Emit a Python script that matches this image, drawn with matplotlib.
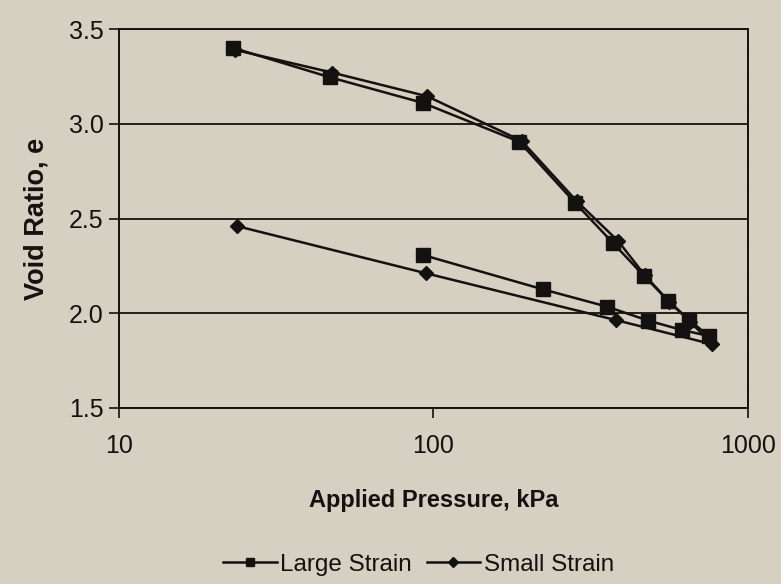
import numpy as np
import matplotlib
matplotlib.use("Agg")
import matplotlib.pyplot as plt

plt.rcParams['font.family'] = ['Liberation Sans', 'DejaVu Sans']

# consolidation test: loading then unloading
large_p = [23.1, 46.9, 92.6, 187.5, 282, 373, 467, 558, 650, 751,
           615, 482, 356, 223, 92.8]
large_e = [3.40, 3.245, 3.11, 2.905, 2.583, 2.369, 2.197, 2.066, 1.964, 1.880,
           1.912, 1.961, 2.035, 2.126, 2.307]

small_p = [23.4, 47.6, 95.5, 190.5, 286, 387, 470, 562, 655, 771,
           380, 94.6, 23.7]
small_e = [3.39, 3.27, 3.145, 2.91, 2.59, 2.38, 2.20, 2.06, 1.955, 1.836,
           1.964, 2.211, 2.460]

x_ticks = [10, 100, 1000]
x_ticklabels = ['10', '100', '1000']
y_ticks = [1.5, 2.0, 2.5, 3.0, 3.5]

bg = '#d6d0c2'
ink = '#141210'

fig = plt.figure(figsize=(7.81, 5.84), dpi=100, facecolor=bg)
ax = fig.add_axes([0.1524, 0.3014, 0.8053, 0.6489], facecolor=bg)

ax.plot(large_p, large_e, color=ink, lw=1.8, marker='s', ms=9.5,
        label='Large Strain', zorder=3)
ax.plot(small_p, small_e, color=ink, lw=1.8, marker='D', ms=7.5,
        label='Small Strain', zorder=3)

ax.set_xscale('log')
ax.set_xlim(10, 1000)
ax.set_ylim(1.5, 3.5)
ax.set_xticks(x_ticks)
ax.set_xticklabels(x_ticklabels)
ax.xaxis.set_minor_locator(matplotlib.ticker.NullLocator())
ax.set_yticks(y_ticks)
ax.set_yticklabels([f'{v:.1f}' for v in y_ticks])

ax.yaxis.grid(True, color=ink, lw=1.3)
ax.set_axisbelow(True)

for side in ['left', 'bottom']:
    ax.spines[side].set_color(ink)
    ax.spines[side].set_linewidth(1.4)
for side in ['top', 'right']:
    ax.spines[side].set_color(ink)
    ax.spines[side].set_linewidth(1.4)
    ax.spines[side].set_linestyle((0, (1, 0.8)))

ax.tick_params(axis='both', direction='out', length=7, width=1.2,
               color=ink, labelcolor=ink, labelsize=18)
ax.tick_params(axis='x', pad=12)
ax.tick_params(axis='y', pad=4)

ax.set_xlabel('Applied Pressure, kPa', fontsize=17, fontweight='bold',
              color=ink, labelpad=22)
ax.set_ylabel('Void Ratio, e', fontsize=19.5, fontweight='bold',
              color=ink, labelpad=14)

leg = fig.legend(loc='center', bbox_to_anchor=(0.536, 0.033), ncol=2,
                 frameon=False, fontsize=17.5, markerscale=0.65,
                 handlelength=2.2, handletextpad=0.15, columnspacing=0.6)
for t in leg.get_texts():
    t.set_color(ink)

fig.savefig('out.png', dpi=100, facecolor=bg)
